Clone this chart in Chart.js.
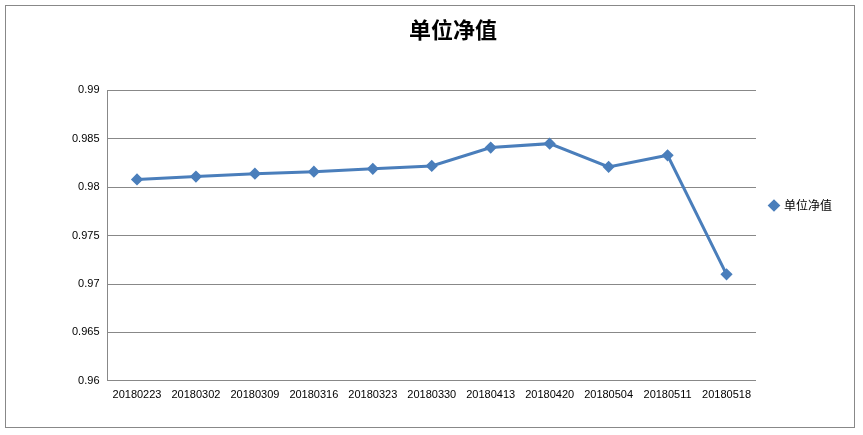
<!DOCTYPE html>
<html>
<head>
<meta charset="utf-8">
<script src="https://cdn.jsdelivr.net/npm/chart.js@4"></script>
<style>
  body { margin: 0; background: #fff; }
  #wrap { position: absolute; left: 5px; top: 5px; width: 850px; height: 423px; border: 1px solid #888; box-sizing: border-box; }
</style>
</head>
<body>
<div id="wrap"><canvas id="chart"></canvas></div>
<script>
// Data
const dates = ['20180223', '20180302', '20180309', '20180316', '20180323', '20180330',
               '20180413', '20180420', '20180504', '20180511', '20180518'];
const navValues = [0.9808, 0.9811, 0.9814, 0.9816, 0.9819, 0.9822, 0.9841, 0.9845, 0.9821, 0.9833, 0.9710];
const seriesName = '单位净值';

const blue = '#4a7ebb';
const ctx = document.getElementById('chart').getContext('2d');
new Chart(ctx, {
    type: 'line',
    data: {
        labels: dates,
        datasets: [{
            label: seriesName,
            data: navValues,
            borderColor: blue,
            backgroundColor: blue,
            borderWidth: 3,
            pointStyle: 'rectRot',
            pointRadius: 4,
            tension: 0
        }]
    },
    options: {
        responsive: true,
        maintainAspectRatio: false,
        animation: false,
        layout: { padding: { left: 58, right: 12, top: 0, bottom: 22 } },
        plugins: {
            title: {
                display: true,
                text: seriesName,
                font: { family: 'Noto Sans CJK SC', size: 22, weight: 'bold' },
                color: '#000',
                padding: { top: 10, bottom: 48 }
            },
            legend: {
                position: 'right',
                labels: {
                    usePointStyle: true,
                    pointStyle: 'rectRot',
                    boxWidth: 8,
                    boxHeight: 6,
                    padding: 14,
                    color: '#000',
                    font: { family: 'Noto Sans CJK SC', size: 12 }
                }
            }
        },
        scales: {
            x: {
                offset: true,
                grid: { display: false, offset: true, drawTicks: true, tickLength: 5, color: '#888' },
                border: { color: '#888' },
                ticks: { color: '#000', font: { family: 'Liberation Sans', size: 11 }, maxRotation: 0, autoSkip: false }
            },
            y: {
                min: 0.96,
                max: 0.99,
                ticks: { stepSize: 0.005, color: '#000', font: { family: 'Liberation Sans', size: 11 }, padding: 8,
                    callback: v => +v.toFixed(3) + '' },
                grid: { color: '#888', drawTicks: false },
                border: { color: '#888' }
            }
        }
    }
});
</script>
</body>
</html>
